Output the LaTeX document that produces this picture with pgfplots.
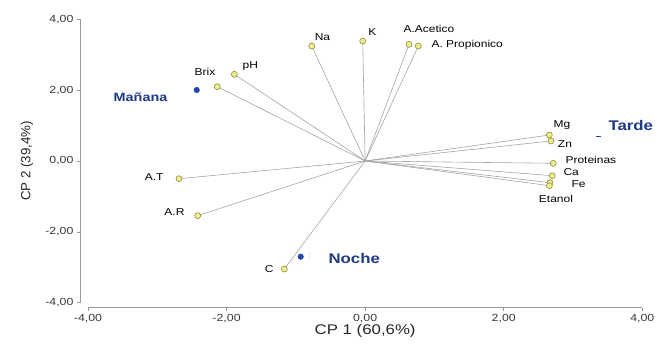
\documentclass[border=0pt]{standalone}
\usepackage{pgfplots}
\pgfplotsset{compat=1.18}
\usepackage{fontspec}
\setmainfont{Liberation Sans}[FakeStretch=1.2]
\newfontfamily\plainsans{Liberation Sans}
\definecolor{linecol}{HTML}{A4A4A4}
\definecolor{axcol}{HTML}{9A9A9A}
\definecolor{ticktext}{HTML}{383838}
\definecolor{ptfill}{HTML}{EEEE8C}
\definecolor{ptdraw}{HTML}{8C8C40}
\definecolor{dotblue}{HTML}{2347A8}
\definecolor{txtblue}{HTML}{1F3A80}
\pgfplotstableread{
x y
-0.771 3.246
-0.035 3.387
0.633 3.294
0.767 3.246
2.658 0.734
2.682 0.565
2.715 -0.065
2.701 -0.415
2.668 -0.613
2.658 -0.697
-1.888 2.447
-2.134 2.097
-2.687 -0.500
-2.417 -1.544
-1.167 -3.049
}\vars
\pgfplotstableread{
x y
-2.431 2.004
-0.930 -2.701
}\groups
\pgfplotstableread{
x y
3.365 0.686
}\tarde
\begin{document}
\begin{tikzpicture}
\path[use as bounding box] (-88pt,-43.3pt) rectangle (571pt,302.7pt);
\begin{axis}[
  at={(0,0)}, anchor=south west,
  scale only axis, width=554.3pt, height=283.4pt,
  xmin=-4, xmax=4, ymin=-4, ymax=4,
  axis x line=bottom, axis y line=left,
  axis x line shift=5pt, axis y line shift=8pt,
  axis line style={axcol, -, line width=0.6pt},
  xtick={-4,-2,0,2,4}, ytick={-4,-2,0,2,4},
  tick align=outside, major tick length=3pt,
  tick style={axcol, line width=0.6pt},
  ticklabel style={font=\fontsize{10.3}{12}\selectfont, text=ticktext},
  /pgf/number format/.cd, fixed, fixed zerofill, precision=2, use comma, assume math mode=true,
  /pgfplots/.cd,
  xlabel={CP 1 (60,6\%)},
  ylabel={CP 2 (39,4\%)},
  xlabel style={at={(rel axis cs:0.5,0)}, anchor=center, yshift=-28.3pt, font=\fontsize{14}{16}\selectfont, text=black!85},
  ylabel style={at={(rel axis cs:0,0.5)}, anchor=center, yshift=61pt, font=\plainsans\fontsize{13.3}{15}\selectfont, text=black!85},
  clip=false,
  every node/.append style={font=\fontsize{10.8}{12}\selectfont, inner sep=0pt, text=black!90},
]
\addplot[linecol, line width=0.6pt] coordinates {(0,0) (-0.771,3.246)};
\addplot[linecol, line width=0.6pt] coordinates {(0,0) (-0.035,3.387)};
\addplot[linecol, line width=0.6pt] coordinates {(0,0) (0.633,3.294)};
\addplot[linecol, line width=0.6pt] coordinates {(0,0) (0.767,3.246)};
\addplot[linecol, line width=0.6pt] coordinates {(0,0) (2.658,0.734)};
\addplot[linecol, line width=0.6pt] coordinates {(0,0) (2.682,0.565)};
\addplot[linecol, line width=0.6pt] coordinates {(0,0) (2.715,-0.065)};
\addplot[linecol, line width=0.6pt] coordinates {(0,0) (2.701,-0.415)};
\addplot[linecol, line width=0.6pt] coordinates {(0,0) (2.668,-0.613)};
\addplot[linecol, line width=0.6pt] coordinates {(0,0) (2.658,-0.697)};
\addplot[linecol, line width=0.6pt] coordinates {(0,0) (-1.888,2.447)};
\addplot[linecol, line width=0.6pt] coordinates {(0,0) (-2.134,2.097)};
\addplot[linecol, line width=0.6pt] coordinates {(0,0) (-2.687,-0.500)};
\addplot[linecol, line width=0.6pt] coordinates {(0,0) (-2.417,-1.544)};
\addplot[linecol, line width=0.6pt] coordinates {(0,0) (-1.167,-3.049)};
\addplot[only marks, mark=*, mark size=3pt, mark options={fill=ptfill, draw=ptdraw, line width=0.6pt}] table {\vars};
\addplot[only marks, mark=*, mark size=2.8pt, mark options={fill=dotblue, draw=dotblue}] table {\groups};
\addplot[only marks, mark=-, mark size=2.5pt, mark options={draw=dotblue, line width=1pt}] table {\tarde};
% variable labels
\node[anchor=center] at (axis cs:-0.616,3.50) {Na};
\node[anchor=center] at (axis cs:0.106,3.64) {K};
\node[anchor=center] at (axis cs:0.921,3.73) {A.Acetico};
\node[anchor=west] at (axis cs:0.907,3.27) {A. Propionico};
\node[anchor=center] at (axis cs:2.841,1.016) {Mg};
\node[anchor=center] at (axis cs:2.884,0.48) {Zn};
\node[anchor=west] at (axis cs:2.841,0.028) {Proteinas};
\node[anchor=west] at (axis cs:2.812,-0.31) {Ca};
\node[anchor=west] at (axis cs:2.928,-0.649) {Fe};
\node[anchor=center] at (axis cs:2.754,-1.073) {Etanol};
\node[anchor=west] at (axis cs:-1.82,2.682) {pH};
\node[anchor=center] at (axis cs:-2.311,2.512) {Brix};
\node[anchor=east] at (axis cs:-2.860,-0.443) {A.T};
\node[anchor=east] at (axis cs:-2.557,-1.448) {A.R};
\node[anchor=east] at (axis cs:-1.272,-3.057) {C};
% group labels
\node[anchor=center, text=txtblue, font=\bfseries\fontsize{12}{14}\selectfont] at (axis cs:-3.242,1.787) {Mañana};
\node[anchor=west, text=txtblue, font=\bfseries\fontsize{14}{16}\selectfont] at (axis cs:3.462,1.016) {Tarde};
\node[anchor=west, text=txtblue, font=\bfseries\fontsize{14}{16}\selectfont] at (axis cs:-0.579,-2.766) {Noche};
\node[anchor=center, text=gray!50, font=\fontsize{9}{10}\selectfont] at (axis cs:-0.80,-2.68) {:};
\end{axis}
\end{tikzpicture}
\end{document}
